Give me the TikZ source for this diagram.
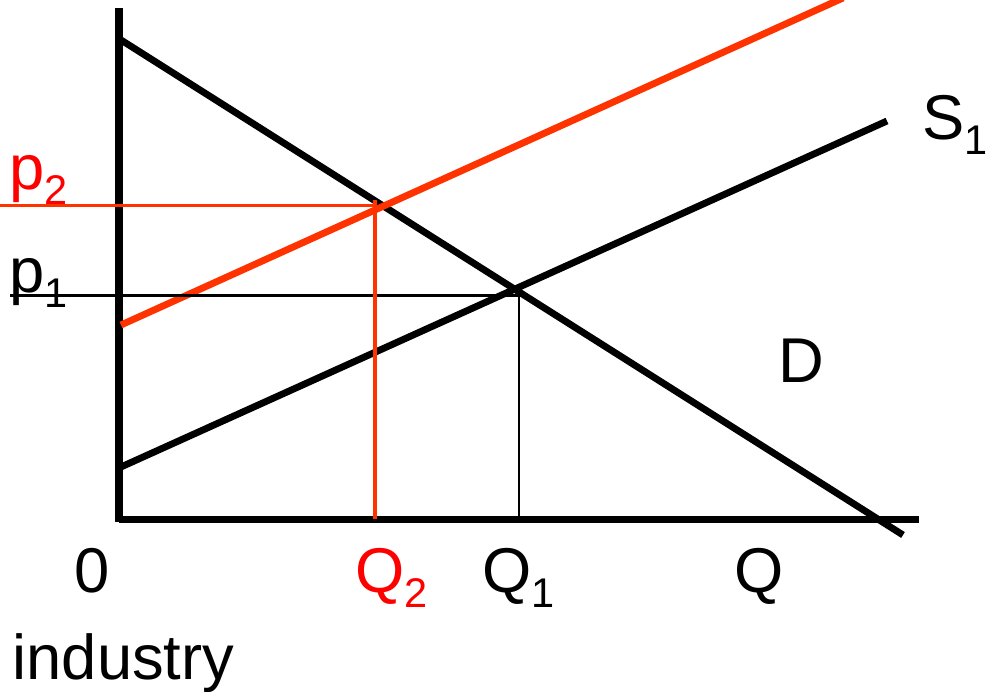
\documentclass[tikz,border=0pt]{standalone}
\usepackage{fontspec}
\setmainfont{Liberation Sans}
\usepackage{tikz}
\usetikzlibrary{positioning}

\definecolor{shiftred}{HTML}{FF3300}
\definecolor{labelred}{HTML}{FF0000}
\newcommand{\lsub}[1]{\raisebox{-4.2pt}{\fontsize{11.8}{12}\selectfont #1}}

\begin{document}
\begin{tikzpicture}[x=0.01cm, y=-0.01cm]

% Define styles
\tikzstyle{axis} = [line width=2.1pt, black]
\tikzstyle{curve} = [line width=1.95pt]
\tikzstyle{guide} = [line width=0.65pt]
\tikzstyle{lbl} = [anchor=base west, inner sep=0pt, font=\fontsize{18}{20}\selectfont]

\useasboundingbox (0,0) rectangle (999,692);

% Axes
\coordinate (origin) at (119,519.5);
\coordinate (ytop) at (119,8);
\coordinate (xend) at (919,519.5);
\draw[axis] (ytop) -- (119,522);
\draw[axis] (origin) -- (xend);

% Demand and supply curves
\coordinate (d0) at (121,40);
\coordinate (d1) at (903,535);
\coordinate (s0) at (121,467);
\coordinate (s1) at (887,121);
\coordinate (r0) at (121,325);
\coordinate (r1) at (843,-2);
\draw[curve] (d0) -- (d1);
\draw[curve] (s0) -- (s1);
\draw[curve, shiftred] (r0) -- (r1);

% Equilibrium guides
\coordinate (eq1) at (519,295.5);
\coordinate (eq2) at (375,205.5);
\draw[guide] (10,295.5) -- (eq1);
\draw[guide] (519,290) -- (519,519.5);
\draw[guide, shiftred, line width=0.95pt] (0,205.5) -- (eq2);
\draw[guide, shiftred, line width=0.95pt] (375,200) -- (375,519.5);

% Labels
\node[lbl, labelred] (ptwo) at (9,190) {p\lsub{2}};
\node[lbl] (pone) at (9,293) {p\lsub{1}};
\node[lbl] (sone) at (922,140) {S\lsub{1}};
\node[lbl] (dem) at (778,383) {D};
\node[lbl, anchor=base] (zero) at (92,593) {0};
\node[lbl, labelred] (qtwo) at (355,593) {Q\lsub{2}};
\node[lbl] (qone) at (482,593) {Q\lsub{1}};
\node[lbl] (qaxis) at (734,593) {Q};
\node[lbl] (ind) at (12,680) {industry};

\end{tikzpicture}
\end{document}
